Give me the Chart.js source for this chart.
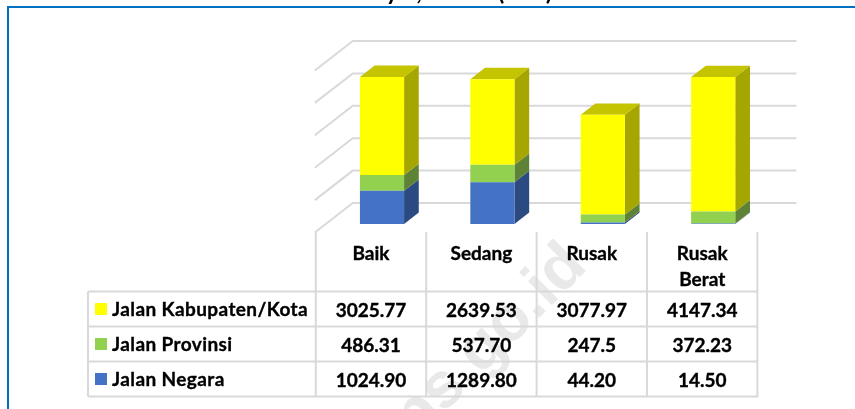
<!DOCTYPE html>
<html>
<head>
<meta charset="utf-8">
<title>Kondisi Jalan</title>
<script src="https://cdn.jsdelivr.net/npm/chart.js@4"></script>
<style>
  html, body { margin: 0; padding: 0; background: #fff; overflow: hidden; }
  #frame { position: absolute; left: 7px; top: 6px; width: 860px; height: 420px; border-left: 2px solid #0070c0; border-top: 2px solid #0070c0; }
  canvas { position: absolute; left: 0; top: 0; }
</style>
</head>
<body>
<div id="frame"></div>
<canvas id="chart" width="855" height="409"></canvas>
<script>
// data
const categories = ["Baik", "Sedang", "Rusak", "Rusak Berat"];
const jalanNegara = [1024.90, 1289.80, 44.20, 14.50];
const jalanProvinsi = [486.31, 537.70, 247.5, 372.23];
const jalanKabupaten = [3025.77, 2639.53, 3077.97, 4147.34];
const negaraLabels = ["1024.90", "1289.80", "44.20", "14.50"];
const provinsiLabels = ["486.31", "537.70", "247.5", "372.23"];
const kabupatenLabels = ["3025.77", "2639.53", "3077.97", "4147.34"];

// warna: depan, samping, atas
const faces = [
  { front: "#4472c4", side: "#2c4a82", top: "#2c4a82" },
  { front: "#92d050", side: "#5e8236", top: "#5e8236" },
  { front: "#ffff00", side: "#a6a600", top: "#c4c400" }
];
const GRID = "#d9d9d9";
const FONT = "bold 19px Lato";

// 3D: bar depth and back wall offset
const DX = 14.7, DY = 11.4;
const WALL_DY = 21;

// text a little heavier than plain Lato Bold
function boldText(ctx, text, x, y) {
  ctx.fillText(text, x, y);
  ctx.strokeText(text, x, y);
}

const plot3d = {
  id: "plot3d",
  beforeDraw(chart) {
    const { ctx, scales: { x, y } } = chart;
    ctx.save();
    // watermark
    ctx.save();
    ctx.translate(589, 268);
    ctx.rotate(-Math.PI / 4);
    ctx.font = "bold 64px 'Liberation Sans'";
    ctx.fillStyle = "#e9e9e9";
    ctx.textAlign = "right";
    ctx.fillText("bps.go.id", 0, 0);
    ctx.restore();

    // gridlines on the back wall + side wall
    ctx.strokeStyle = GRID;
    ctx.lineWidth = 2;
    y.ticks.forEach(t => {
      const py = y.getPixelForValue(t.value) - WALL_DY;
      ctx.beginPath();
      ctx.moveTo(x.left - 12, py + 29.5);
      ctx.lineTo(x.left + 26, py);
      ctx.lineTo(x.right + 28, py);
      ctx.stroke();
    });
    ctx.restore();
  },
  beforeDatasetsDraw(chart) {
    const { ctx } = chart;
    ctx.save();
    chart.data.datasets.forEach((ds, i) => {
      chart.getDatasetMeta(i).data.forEach(bar => {
        const right = bar.x + bar.width / 2;
        const left = bar.x - bar.width / 2;
        ctx.fillStyle = faces[i].side;
        ctx.beginPath();
        ctx.moveTo(right, bar.y);
        ctx.lineTo(right + DX, bar.y - DY);
        ctx.lineTo(right + DX, bar.base - DY);
        ctx.lineTo(right, bar.base);
        ctx.closePath();
        ctx.fill();
        if (i === chart.data.datasets.length - 1) {
          ctx.fillStyle = faces[i].top;
          ctx.beginPath();
          ctx.moveTo(left, bar.y);
          ctx.lineTo(left + DX, bar.y - DY);
          ctx.lineTo(right + DX, bar.y - DY);
          ctx.lineTo(right, bar.y);
          ctx.closePath();
          ctx.fill();
        }
      });
    });
    ctx.restore();
  },
  afterDraw(chart) {
    const { ctx, scales: { x } } = chart;
    const band = (x.right - x.left) / categories.length;
    const colX = i => x.left - 11 + band * i;
    const rows = [
      { name: "Jalan Kabupaten/Kota", values: kabupatenLabels, color: faces[2].front },
      { name: "Jalan Provinsi", values: provinsiLabels, color: faces[1].front },
      { name: "Jalan Negara", values: negaraLabels, color: faces[0].front }
    ];
    const headTop = 232, rowTop = 291.5, rowH = 35, tableLeft = 88;

    ctx.save();
    ctx.strokeStyle = GRID;
    ctx.lineWidth = 2;
    ctx.beginPath();
    for (let i = 0; i <= categories.length; i++) {
      ctx.moveTo(colX(i), headTop);
      ctx.lineTo(colX(i), rowTop + rowH * rows.length);
    }
    for (let r = 0; r <= rows.length; r++) {
      ctx.moveTo(tableLeft, rowTop + rowH * r);
      ctx.lineTo(colX(categories.length) + 1, rowTop + rowH * r);
    }
    ctx.moveTo(tableLeft, rowTop);
    ctx.lineTo(tableLeft, rowTop + rowH * rows.length);
    ctx.stroke();

    ctx.fillStyle = "#000";
    ctx.strokeStyle = "#000";
    ctx.lineWidth = 0.35;
    ctx.font = FONT;
    ctx.textBaseline = "middle";

    // header kategori
    ctx.textAlign = "center";
    categories.forEach((c, i) => {
      const cx = colX(i) + band / 2;
      if (c === "Rusak Berat") {
        boldText(ctx, "Rusak", cx, 254);
        boldText(ctx, "Berat", cx, 280);
      } else {
        boldText(ctx, c, cx, 254);
      }
    });

    rows.forEach((row, r) => {
      const cy = rowTop + rowH * r + rowH / 2 + 0.5;
      ctx.fillStyle = row.color;
      ctx.fillRect(95, cy - 6.5, 12, 12);
      ctx.fillStyle = "#000";
      ctx.textAlign = "left";
      ctx.letterSpacing = "0.4px";
      boldText(ctx, row.name, 112, cy);
      ctx.letterSpacing = "0px";
      ctx.textAlign = "center";
      row.values.forEach((v, i) => boldText(ctx, v, colX(i) + band / 2, cy + 1));
    });

    // judul terpotong di tepi atas
    ctx.beginPath();
    ctx.rect(0, 0, 855, 6);
    ctx.clip();
    ctx.font = "bold 24px Lato";
    ctx.textBaseline = "alphabetic";
    ctx.fillText("y", 392, 0);
    ctx.fillText(",", 419, 0);
    ctx.fillText("(", 501, 0);
    ctx.fillText(")", 549, 0);
    ctx.restore();
  }
};

new Chart(document.getElementById("chart"), {
  type: "bar",
  data: {
    labels: categories,
    datasets: [
      { label: "Jalan Negara", data: jalanNegara, backgroundColor: faces[0].front },
      { label: "Jalan Provinsi", data: jalanProvinsi, backgroundColor: faces[1].front },
      { label: "Jalan Kabupaten/Kota", data: jalanKabupaten, backgroundColor: faces[2].front }
    ]
  },
  options: {
    responsive: false,
    animation: false,
    layout: { padding: { left: 326.8, right: 86.6, top: 62, bottom: 185 } },
    datasets: { bar: { barPercentage: 0.4, categoryPercentage: 1 } },
    plugins: { legend: { display: false }, tooltip: { enabled: false } },
    scales: {
      x: { stacked: true, display: false },
      y: { stacked: true, display: false, min: 0, max: 5000, ticks: { stepSize: 1000 } }
    }
  },
  plugins: [plot3d]
});
</script>
</body>
</html>
